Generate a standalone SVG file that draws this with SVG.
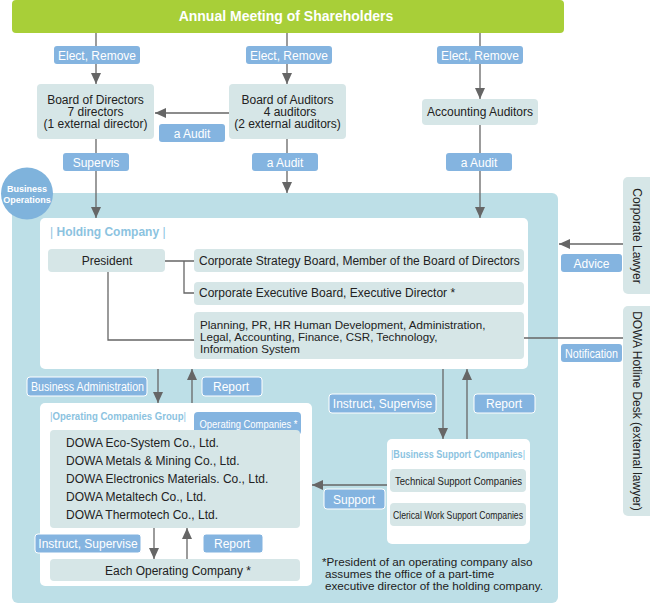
<svg xmlns="http://www.w3.org/2000/svg" width="650" height="604" viewBox="0 0 650 604">
<style>
text{font-family:"Liberation Sans",Arial,sans-serif;font-size:12px;fill:#222}
.lbl{fill:#84b4e0}
.lblb{fill:#84b4e0;stroke:#fff;stroke-width:1}
.lt{fill:#fff;text-anchor:middle}
.box{fill:#d6e6e7}
.wb{fill:#fff}
.ln{stroke:#666;stroke-width:1.3;fill:none}
.t{fill:#8cc3df;font-weight:bold}
.c{text-anchor:middle}
.n{font-weight:normal}
.fn{font-size:11.7px}
</style>
<defs>
<marker id="ah" markerUnits="userSpaceOnUse" markerWidth="11" markerHeight="11" viewBox="0 0 11 11" refX="11" refY="5.5" orient="auto">
<path d="M0,0.5 L11,5.5 L0,10.5 Z" fill="#666"/>
</marker>
</defs>
<rect x="0" y="0" width="650" height="604" fill="#fff"/>
<g id="shareholders">
<rect x="12" y="0" width="552" height="33" rx="4" fill="#a8cf38"/>
<text x="286" y="21" class="c" style="fill:#fff;font-weight:bold;font-size:14px">Annual Meeting of Shareholders</text>
</g>
<g id="business-operations">
<rect x="12" y="193" width="546" height="410" rx="6" fill="#bddfe7"/>
<circle cx="27" cy="193.5" r="26" fill="#7fb3dc"/>
<text x="27" y="191.5" class="c" style="fill:#fff;font-weight:bold;font-size:9px">Business</text>
<text x="27" y="202.5" class="c" style="fill:#fff;font-weight:bold;font-size:9px">Operations</text>
</g>
<g id="board-of-directors">
<rect x="37" y="84" width="117" height="55" rx="4" class="box"/>
<text x="95.5" y="104" class="c">Board of Directors</text>
<text x="95.5" y="116" class="c">7 directors</text>
<text x="95.5" y="128" class="c">(1 external director)</text>
</g>
<g id="board-of-auditors">
<rect x="229" y="84" width="117" height="55" rx="4" class="box"/>
<text x="287.5" y="104" class="c">Board of Auditors</text>
<text x="290" y="116" class="c">4 auditors</text>
<text x="287.5" y="128" class="c">(2 external auditors)</text>
</g>
<g id="accounting-auditors">
<rect x="422" y="99" width="116" height="26" rx="4" class="box"/>
<text x="480" y="116" class="c">Accounting Auditors</text>
</g>
<g id="holding-company">
<rect x="40" y="218" width="488" height="151" rx="5" class="wb"/>
<text x="50" y="236" class="t"><tspan class="n">|</tspan> Holding Company <tspan class="n">|</tspan></text>
</g>
<g id="president">
<rect x="48" y="249" width="117" height="23" rx="4" class="box"/>
<text x="107" y="265" class="c">President</text>
</g>
<g id="strategy-board">
<rect x="194" y="249" width="330" height="23" rx="4" class="box"/>
<text x="199" y="265">Corporate Strategy Board, Member of the Board of Directors</text>
</g>
<g id="executive-board">
<rect x="194" y="282" width="330" height="23" rx="4" class="box"/>
<text x="199" y="297">Corporate Executive Board, Executive Director *</text>
</g>
<g id="departments">
<rect x="194" y="312" width="330" height="47" rx="4" class="box"/>
<text x="200" y="328.5" style="font-size:11.6px">Planning, PR, HR Human Development, Administration,</text>
<text x="200" y="340.5" style="font-size:11.6px">Legal, Accounting, Finance, CSR, Technology,</text>
<text x="200" y="352.5" style="font-size:11.6px">Information System</text>
</g>
<g id="corporate-lawyer">
<rect x="623" y="177" width="32" height="117" rx="5" class="box"/>
<text transform="translate(633,236) rotate(90)" class="c">Corporate Lawyer</text>
</g>
<g id="hotline">
<rect x="623" y="306" width="32" height="210" rx="5" class="box"/>
<text transform="translate(633,411) rotate(90)" class="c">DOWA Hotline Desk (external lawyer)</text>
</g>
<g id="operating-companies-group">
<rect x="40" y="403" width="272" height="183" rx="5" class="wb"/>
<text x="50" y="420" class="t" style="font-size:11.5px" textLength="136" lengthAdjust="spacingAndGlyphs"><tspan class="n">|</tspan>Operating Companies Group<tspan class="n">|</tspan></text>
<rect x="194" y="412" width="107" height="23" rx="4" class="lbl"/>
<text x="248.5" y="428" class="lt" style="font-size:11.5px" textLength="98" lengthAdjust="spacingAndGlyphs">Operating Companies *</text>
</g>
<g id="operating-companies">
<rect x="50" y="430" width="250" height="98" rx="4" class="box"/>
<text x="66" y="447">DOWA Eco-System Co., Ltd.</text>
<text x="66" y="465">DOWA Metals &amp; Mining Co., Ltd.</text>
<text x="66" y="483">DOWA Electronics Materials. Co., Ltd.</text>
<text x="66" y="501">DOWA Metaltech Co., Ltd.</text>
<text x="66" y="519">DOWA Thermotech Co., Ltd.</text>
</g>
<g id="each-operating-company">
<rect x="50" y="559" width="250" height="22" rx="4" class="box"/>
<text x="178" y="575" class="c">Each Operating Company *</text>
</g>
<g id="business-support">
<rect x="387" y="439" width="143" height="105" rx="5" class="wb"/>
<text x="458" y="458" class="t c" style="font-size:11px" textLength="134" lengthAdjust="spacingAndGlyphs"><tspan class="n">|</tspan>Business Support Companies<tspan class="n">|</tspan></text>
</g>
<g id="technical-support">
<rect x="390" y="469" width="136" height="23" rx="4" class="box"/>
<text x="458.5" y="485" class="c" style="font-size:11px" textLength="127" lengthAdjust="spacingAndGlyphs">Technical Support Companies</text>
</g>
<g id="clerical-support">
<rect x="390" y="503" width="136" height="23" rx="4" class="box"/>
<text x="458" y="519" class="c" style="font-size:11px" textLength="130" lengthAdjust="spacingAndGlyphs">Clerical Work Support Companies</text>
</g>
<g id="footnote">
<text x="322" y="565.5" class="fn">*President of an operating company also</text>
<text x="325" y="577.5" class="fn">assumes the office of a part-time</text>
<text x="325" y="589.5" class="fn">executive director of the holding company.</text>
</g>
<g id="connectors">
<line x1="96" y1="33" x2="96" y2="84" class="ln" marker-end="url(#ah)"/>
<line x1="287" y1="33" x2="287" y2="84" class="ln" marker-end="url(#ah)"/>
<line x1="480" y1="33" x2="480" y2="99" class="ln" marker-end="url(#ah)"/>
<line x1="229" y1="113" x2="155" y2="113" class="ln" marker-end="url(#ah)"/>
<line x1="96" y1="139" x2="96" y2="218" class="ln" marker-end="url(#ah)"/>
<line x1="287" y1="139" x2="287" y2="193" class="ln" marker-end="url(#ah)"/>
<line x1="480" y1="125" x2="480" y2="218" class="ln" marker-end="url(#ah)"/>
<path d="M165,261 H194 M184,261 V293 H194 M108,272 V340 H194" class="ln"/>
<line x1="623" y1="244" x2="559" y2="244" class="ln" marker-end="url(#ah)"/>
<line x1="524" y1="338" x2="623" y2="338" class="ln"/>
<line x1="158" y1="369" x2="158" y2="403" class="ln" marker-end="url(#ah)"/>
<line x1="192" y1="403" x2="192" y2="369" class="ln" marker-end="url(#ah)"/>
<line x1="443" y1="369" x2="443" y2="439" class="ln" marker-end="url(#ah)"/>
<line x1="467" y1="439" x2="467" y2="369" class="ln" marker-end="url(#ah)"/>
<line x1="387" y1="485" x2="312" y2="485" class="ln" marker-end="url(#ah)"/>
<line x1="154" y1="528" x2="154" y2="559" class="ln" marker-end="url(#ah)"/>
<line x1="187" y1="559" x2="187" y2="528" class="ln" marker-end="url(#ah)"/>
</g>
<g id="labels">
<rect x="54" y="46" width="86" height="18" rx="3" class="lbl"/><text x="97" y="59.5" class="lt">Elect, Remove</text>
<rect x="246" y="46" width="86" height="18" rx="3" class="lbl"/><text x="289" y="59.5" class="lt">Elect, Remove</text>
<rect x="437" y="46" width="86" height="18" rx="3" class="lbl"/><text x="480" y="59.5" class="lt">Elect, Remove</text>
<rect x="159" y="124" width="66" height="18" rx="3" class="lbl"/><text x="192" y="137.5" class="lt">a Audit</text>
<rect x="63" y="153" width="66" height="18" rx="3" class="lbl"/><text x="96" y="166.5" class="lt">Supervis</text>
<rect x="252" y="153" width="66" height="18" rx="3" class="lbl"/><text x="285" y="166.5" class="lt">a Audit</text>
<rect x="446" y="153" width="66" height="18" rx="3" class="lbl"/><text x="479" y="166.5" class="lt">a Audit</text>
<rect x="561" y="254" width="61" height="18" rx="3" class="lbl"/><text x="591.5" y="267.5" class="lt">Advice</text>
<rect x="561" y="344" width="61" height="18" rx="3" class="lbl"/><text x="591.5" y="357.5" class="lt" textLength="53" lengthAdjust="spacingAndGlyphs">Notification</text>
<rect x="27" y="377" width="120" height="19" rx="3" class="lblb"/><text x="87.5" y="391" class="lt" textLength="113" lengthAdjust="spacingAndGlyphs">Business Administration</text>
<rect x="202" y="377" width="60" height="19" rx="3" class="lblb"/><text x="231" y="391" class="lt">Report</text>
<rect x="329" y="394" width="107" height="19" rx="3" class="lblb"/><text x="382.5" y="408" class="lt">Instruct, Supervise</text>
<rect x="474" y="394" width="61" height="19" rx="3" class="lblb"/><text x="504" y="408" class="lt">Report</text>
<rect x="324" y="489" width="61" height="20" rx="3" class="lblb"/><text x="354" y="503.5" class="lt">Support</text>
<rect x="35" y="534" width="106" height="19" rx="3" class="lblb"/><text x="88" y="548" class="lt">Instruct, Supervise</text>
<rect x="203" y="534" width="60" height="19" rx="3" class="lblb"/><text x="232" y="548" class="lt">Report</text>
</g>
</svg>
